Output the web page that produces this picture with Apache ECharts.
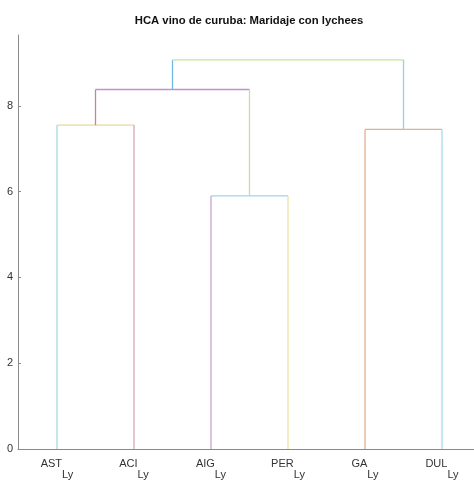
<!DOCTYPE html>
<html>
<head>
<meta charset="utf-8">
<title>HCA vino de curuba</title>
<script src="https://cdn.jsdelivr.net/npm/echarts@6/dist/echarts.min.js"></script>
<style>
  html, body { margin: 0; padding: 0; background: #fff; }
  #chart { width: 474px; height: 480px; }
</style>
</head>
<body>
<div id="chart"></div>
<script>
// Leaves of the dendrogram, left to right
const leaves = ['AST', 'ACI', 'AIG', 'PER', 'GA', 'DUL'];
const leafSuffix = 'Ly';

// Merge steps: ids 0..5 are leaves, 6.. are merged clusters (in order)
const mergeLeft   = [0, 2, 4, 6, 9];
const mergeRight  = [1, 3, 5, 7, 8];
const mergeHeight = [7.55, 5.90, 7.45, 8.38, 9.07];

// Axis ticks
const yTicks = [0, 2, 4, 6, 8];
const xTicks = [0, 1, 2, 3, 4, 5];

// One colour per segment: left leg, crossbar, right leg of each merge
const segColors = [
  '#a6d9e4', '#ebd98f', '#d9a4b8',
  '#c6a1d6', '#a1d2f0', '#efe0a2',
  '#dfb190', '#dfb190', '#a4dde8',
  '#d27f92', '#c291cb', '#c6df9b',
  '#70bae4', '#cae398', '#90d2e3'
];

// Build node positions and segment list from the merge table
const nodeX = leaves.map((_, i) => i);
const nodeH = leaves.map(() => 0);
const segments = [];
mergeLeft.forEach((l, k) => {
  const r = mergeRight[k];
  const h = mergeHeight[k];
  const xl = nodeX[l], xr = nodeX[r];
  segments.push([xl, nodeH[l], xl, h, k * 3]);
  segments.push([xl, h, xr, h, k * 3 + 1]);
  segments.push([xr, nodeH[r], xr, h, k * 3 + 2]);
  nodeX.push((xl + xr) / 2);
  nodeH.push(h);
});

const chart = echarts.init(document.getElementById('chart'), null, { renderer: 'canvas' });

const axisGray = '#8a8a8a';
const textColor = '#333333';
const fontFamily = '"Liberation Sans", Arial, sans-serif';

chart.setOption({
  animation: false,
  backgroundColor: '#ffffff',
  title: {
    text: 'HCA vino de curuba: Maridaje con lychees',
    left: 244,
    textAlign: 'center',
    top: 10,
    textStyle: { fontFamily, fontSize: 11.3, fontWeight: 'bold', color: '#111' }
  },
  grid: { left: 18, right: 0, top: 35, bottom: 31, containLabel: false },
  // Leaf axis: the plot runs half a slot past each end leaf, so the right edge is cut
  xAxis: {
    type: 'value',
    min: -0.5065,
    max: 5.4156,
    axisLine: { show: true, onZero: false, lineStyle: { color: axisGray, width: 1 } },
    axisTick: { show: false },
    axisLabel: {
      margin: 9,
      customValues: xTicks,
      formatter: v => '{m|' + leaves[Math.round(v)] + '}{s|' + leafSuffix + '}',
      rich: {
        m: { fontFamily, fontSize: 11, color: textColor, verticalAlign: 'top', lineHeight: 22 },
        s: { fontFamily, fontSize: 11, color: textColor, verticalAlign: 'bottom', lineHeight: 22, padding: [11, 0, 0, 0] }
      }
    },
    splitLine: { show: false }
  },
  yAxis: {
    type: 'value',
    min: 0,
    max: 9.65,
    interval: 2,
    axisLine: { show: true, onZero: false, lineStyle: { color: axisGray, width: 1 } },
    axisTick: { show: true, inside: true, length: 3, lineStyle: { color: axisGray }, customValues: yTicks },
    axisLabel: { fontFamily, fontSize: 11, color: textColor, margin: 5, customValues: yTicks },
    splitLine: { show: false }
  },
  series: [{
    type: 'custom',
    clip: false,
    encode: { x: [0, 2], y: [1, 3] },
    data: segments,
    renderItem: (params, api) => {
      const p1 = api.coord([api.value(0), api.value(1)]);
      const p2 = api.coord([api.value(2), api.value(3)]);
      return {
        type: 'line',
        shape: { x1: p1[0], y1: p1[1], x2: p2[0], y2: p2[1] },
        style: { stroke: segColors[api.value(4)], lineWidth: 1.3 }
      };
    }
  }]
});
</script>
</body>
</html>
